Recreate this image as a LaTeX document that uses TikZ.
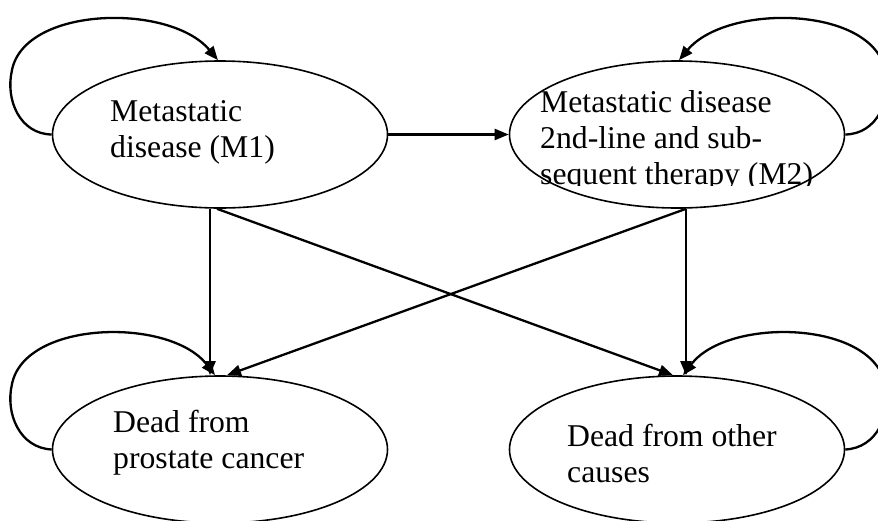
\documentclass[tikz,border=0pt]{standalone}
\usepackage{fontspec}
\setmainfont{Liberation Serif}
\usetikzlibrary{shapes.geometric,arrows.meta,calc}
\begin{document}
\begin{tikzpicture}[x=1pt,y=-1pt,
  state/.style={ellipse,draw,line width=1.6pt,minimum width=335pt,minimum height=147pt,inner sep=0pt},
  lbl/.style={anchor=base west,align=left,inner sep=0pt,font=\fontsize{31.7}{36}\selectfont},
  arr/.style={line width=2.3pt,-{Triangle[length=14pt,width=11pt]}}]
\useasboundingbox (0,0) rectangle (878,520);
\node[state] (m1) at (220,134.5) {};
\node[state] (m2) at (677,134.5) {};
\node[state] (dp) at (220,449.5) {};
\node[state] (do) at (677,449.5) {};
\node[lbl] (t1) at (110,157) {Metastatic\\disease (M1)};
\begin{scope}
\clip (500,0) rectangle (878,185);
\node[lbl] (t2) at (540,184) {Metastatic disease\\2nd-line and sub-\\sequent therapy (M2)};
\end{scope}
\node[lbl] (t3) at (113,468) {Dead from\\prostate cancer};
\node[lbl] (t4) at (567,482) {Dead from other\\causes};
% transitions
\draw[arr] (m1.east) -- (m2.west);
\draw[arr] ([xshift=-10pt]m1.south) -- ([xshift=-10pt]dp.north);
\draw[arr] ([xshift=9pt]m2.south) -- ([xshift=9pt]do.north);
\draw[arr] ([xshift=-3pt]m1.south) -- ([xshift=-4pt]do.north);
\draw[arr] ([xshift=9pt]m2.south) -- ([xshift=7pt]dp.north);
% self loops
\draw[arr] (m1.west) .. controls (20,134) and (5,100) .. (12,70) .. controls (25,6) and (170,3) .. ([xshift=-2pt]m1.north);
\draw[arr] (m2.east) .. controls (877,134) and (892,100) .. (885,70) .. controls (872,6) and (727,3) .. ([xshift=2pt]m2.north);
\draw[arr] (dp.west) .. controls (20,448) and (5,414) .. (12,384) .. controls (25,320) and (170,317) .. ([xshift=-5pt]dp.north);
\draw[arr] (do.east) .. controls (877,448) and (892,414) .. (885,384) .. controls (872,320) and (727,317) .. ([xshift=6pt]do.north);
\end{tikzpicture}
\end{document}
